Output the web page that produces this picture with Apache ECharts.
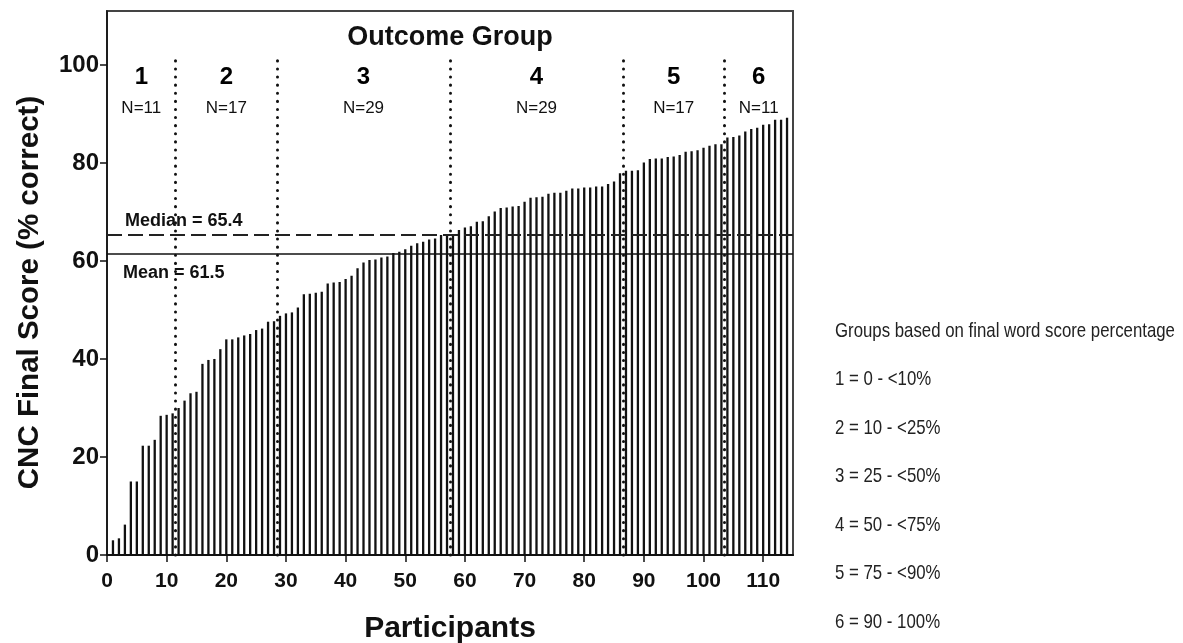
<!DOCTYPE html>
<html>
<head>
<meta charset="utf-8">
<script src="https://cdn.jsdelivr.net/npm/echarts@6/dist/echarts.min.js"></script>
<style>
  html, body { margin: 0; padding: 0; background: #ffffff; }
  #chart { width: 1183px; height: 643px; }
</style>
</head>
<body>
<div id="chart"></div>
<script>
// CNC final word score (% correct) for each participant, sorted ascending
const scores = [
  3.0, 3.4, 6.2, 15.0, 15.0, 22.3, 22.3, 23.5, 28.4, 28.6, 28.9,
  30.0, 31.5, 33.0, 33.3, 39.0, 39.8, 40.0, 42.0, 44.0, 44.0, 44.4, 44.8, 45.1, 45.9, 46.2, 47.6, 47.7,
  48.8, 49.3, 49.5, 50.5, 53.2, 53.3, 53.5, 53.7, 55.4, 55.6, 55.7, 56.3, 57.0, 58.5, 59.7, 60.2, 60.3,
  60.7, 60.9, 61.6, 61.9, 62.4, 63.1, 63.6, 63.9, 64.4, 64.6, 65.3, 65.3,
  65.5, 66.3, 66.8, 67.1, 68.0, 68.1, 69.1, 70.1, 70.8, 70.9, 71.1, 71.2, 72.1, 72.9, 73.0, 73.1, 73.7,
  73.9, 73.9, 74.3, 74.8, 74.8, 75.0, 75.0, 75.2, 75.2, 75.7, 76.2, 77.9,
  78.4, 78.4, 78.5, 80.1, 80.8, 80.9, 80.9, 81.2, 81.3, 81.6, 82.3, 82.4, 82.6, 83.1, 83.5, 83.8, 83.8,
  85.2, 85.3, 85.6, 86.4, 86.9, 87.2, 87.8, 87.9, 88.8, 88.8, 89.2
];

// Outcome groups and their sizes
const groupNames = ['1', '2', '3', '4', '5', '6'];
const groupSizes = [11, 17, 29, 29, 17, 11];

const medianScore = 65.4;
const meanScore = 61.5;

const xTicks = [0, 10, 20, 30, 40, 50, 60, 70, 80, 90, 100, 110];
const yTicks = [0, 20, 40, 60, 80, 100];
const xMax = 115;
const yMax = 111;

// Key for the outcome groups
const groupKey = [
  'Groups based on final word score percentage',
  '1 = 0 - <10%',
  '2 = 10 - <25%',
  '3 = 25 - <50%',
  '4 = 50 - <75%',
  '5 = 75 - <90%',
  '6 = 90 - 100%'
];

const bold = 'bold';
const sans = '"Liberation Sans", Arial, Helvetica, sans-serif';

// Divider positions fall halfway between the last member of a group and the next
const dividers = [];
const groupCenters = [];
let start = 0;
let count = 0;
groupSizes.forEach((n, i) => {
  count += n;
  const end = i === groupSizes.length - 1 ? xMax : count + 0.5;
  groupCenters.push((start + end) / 2);
  if (i < groupSizes.length - 1) dividers.push(end);
  start = end;
});

const barData = scores.map((s, i) => [i + 1, s]);
const groupLabelData = groupNames.map((g, i) => ({
  value: [groupCenters[i], 94.3],
  name: g,
  n: groupSizes[i]
}));

const dotted = { type: [0.1, 8], width: 3, color: '#111', cap: 'round' };

const chart = echarts.init(document.getElementById('chart'), null, { renderer: 'canvas' });

chart.setOption({
  animation: false,
  backgroundColor: '#ffffff',
  grid: {
    left: 107, top: 11, width: 686, height: 544,
    outerBoundsMode: 'none', containLabel: false,
    show: true, borderColor: '#444', borderWidth: 2, backgroundColor: 'transparent'
  },
  xAxis: {
    type: 'value', min: 0, max: xMax, interval: 10,
    name: 'Participants', nameLocation: 'middle', nameGap: 59,
    nameTextStyle: { fontFamily: sans, fontWeight: bold, fontSize: 30, color: '#111' },
    axisLine: { show: true, lineStyle: { color: '#111', width: 2 } },
    axisTick: { show: true, length: 7, customValues: xTicks, lineStyle: { color: '#111', width: 1.5 } },
    axisLabel: { customValues: xTicks, margin: 16, fontFamily: sans, fontWeight: bold, fontSize: 21, color: '#111' },
    splitLine: { show: false }
  },
  yAxis: {
    type: 'value', min: 0, max: yMax, interval: 20,
    name: 'CNC Final Score (% correct)', nameLocation: 'middle', nameGap: 62, nameRotate: 90,
    nameTextStyle: { fontFamily: sans, fontWeight: bold, fontSize: 29.5, color: '#111', padding: [0, 19, 0, 0] },
    axisLine: { show: true, lineStyle: { color: '#111', width: 1.5 } },
    axisTick: { show: true, length: 7, customValues: yTicks, lineStyle: { color: '#111', width: 1.5 } },
    axisLabel: { customValues: yTicks, margin: 8, fontFamily: sans, fontWeight: bold, fontSize: 24, color: '#111' },
    splitLine: { show: false }
  },
  graphic: [
    {
      type: 'text', x: 450, y: 38, z: 10,
      style: { text: 'Outcome Group', font: 'bold 27px ' + sans, fill: '#111', textAlign: 'center', textVerticalAlign: 'middle' }
    }
  ].concat(groupKey.map((t, i) => ({
    type: 'text', x: 835, y: 331 + i * 48.5, z: 10, scaleX: 0.8,
    style: { text: t, font: '21px ' + sans, fill: '#222', textVerticalAlign: 'middle' }
  }))),
  series: [
    {
      name: 'CNC score',
      type: 'bar',
      data: barData,
      barWidth: 2.3,
      itemStyle: { color: '#111' },
      markLine: {
        silent: true, symbol: 'none', animation: false,
        data: [
          {
            yAxis: medianScore,
            lineStyle: { type: [15, 6], width: 2, color: '#222' },
            label: {
              show: true, position: 'insideStartTop', distance: [18, 4],
              formatter: 'Median = ' + medianScore,
              fontFamily: sans, fontWeight: bold, fontSize: 18, color: '#111'
            }
          },
          {
            yAxis: meanScore,
            lineStyle: { type: 'solid', width: 1.5, color: '#111' },
            label: {
              show: true, position: 'insideStartBottom', distance: [16, 10],
              formatter: 'Mean = ' + meanScore,
              fontFamily: sans, fontWeight: bold, fontSize: 18, color: '#111'
            }
          }
        ].concat(dividers.map(d => [
          { coord: [d, 0], lineStyle: dotted, label: { show: false } },
          { coord: [d, 102] }
        ]))
      }
    },
    {
      name: 'Outcome group',
      type: 'scatter',
      data: groupLabelData,
      symbolSize: 0,
      silent: true,
      itemStyle: { color: '#000', opacity: 1 },
      label: {
        show: true, position: 'inside', color: '#000',
        textBorderWidth: 0, textBorderColor: 'transparent',
        formatter: p => '{g|' + p.data.name + '}\n{n|N=' + p.data.n + '}',
        rich: {
          g: { fontFamily: sans, fontWeight: bold, fontSize: 24, lineHeight: 30, color: '#000', align: 'center', textBorderWidth: 0 },
          n: { fontFamily: sans, fontSize: 17, lineHeight: 30, color: '#111', align: 'center', textBorderWidth: 0 }
        }
      }
    }
  ]
});
</script>
</body>
</html>
